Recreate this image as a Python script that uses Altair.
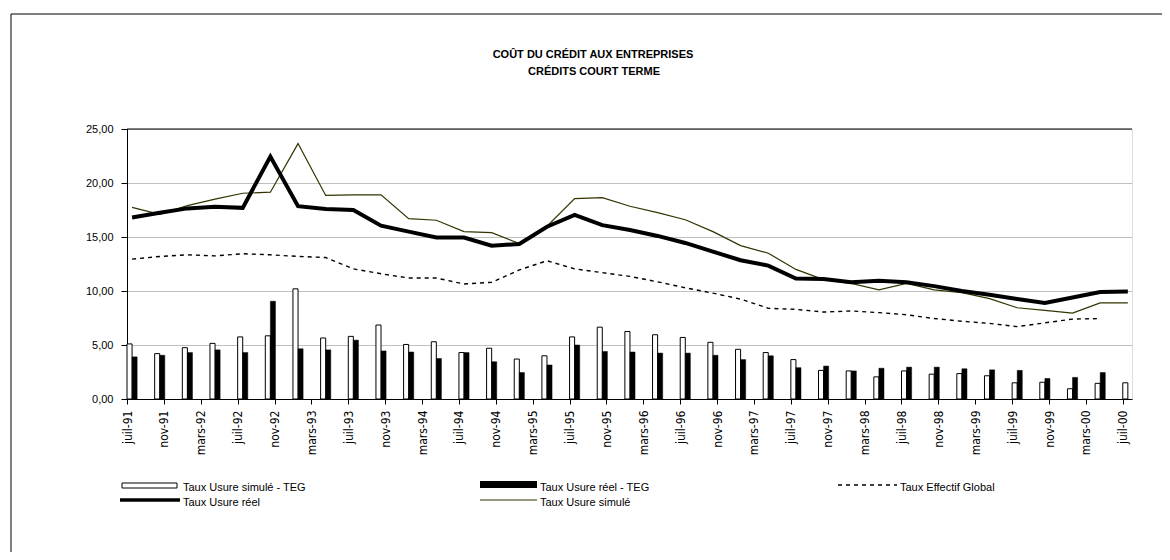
import altair as alt
import pandas as pd

# ---- data -------------------------------------------------------------
# quarterly observations, expressed in months since juil-91
months = [0, 3, 6, 9, 12, 15, 18, 21, 24, 27, 30, 33, 36, 39, 42, 45, 48, 51, 54,
          57, 60, 63, 66, 69, 72, 75, 78, 81, 84, 87, 90, 93, 96, 99, 102, 105, 108]

tick_months = [0, 4, 8, 12, 16, 20, 24, 28, 32, 36, 40, 44, 48, 52, 56, 60, 64, 68,
               72, 76, 80, 84, 88, 92, 96, 100, 104, 108]
tick_labels = ["juil-91", "nov-91", "mars-92", "juil-92", "nov-92", "mars-93",
               "juil-93", "nov-93", "mars-94", "juil-94", "nov-94", "mars-95",
               "juil-95", "nov-95", "mars-96", "juil-96", "nov-96", "mars-97",
               "juil-97", "nov-97", "mars-98", "juil-98", "nov-98", "mars-99",
               "juil-99", "nov-99", "mars-00", "juil-00"]

usure_simule_teg = [5.1, 4.2, 4.75, 5.15, 5.75, 5.85, 10.2, 5.65, 5.8, 6.85, 5.05, 5.3,
                    4.3, 4.7, 3.7, 4.0, 5.75, 6.65, 6.25, 5.95, 5.7, 5.25, 4.6, 4.3,
                    3.65, 2.65, 2.6, 2.05, 2.6, 2.3, 2.35, 2.15, 1.5, 1.55, 0.95, 1.45, 1.5]
usure_reel_teg = [3.9, 4.05, 4.3, 4.55, 4.3, 9.05, 4.65, 4.55, 5.45, 4.45, 4.35, 3.75,
                  4.3, 3.45, 2.45, 3.15, 5.0, 4.4, 4.35, 4.25, 4.25, 4.05, 3.65, 4.0,
                  2.9, 3.05, 2.6, 2.85, 2.95, 2.95, 2.8, 2.7, 2.65, 1.9, 2.0, 2.45, None]
teg = [12.95, 13.2, 13.35, 13.25, 13.45, 13.35, 13.2, 13.1, 12.05, 11.6, 11.2, 11.2,
       10.65, 10.8, 11.95, 12.8, 12.05, 11.7, 11.35, 10.85, 10.3, 9.8, 9.25, 8.4,
       8.3, 8.05, 8.15, 8.0, 7.8, 7.45, 7.2, 7.0, 6.7, 7.05, 7.4, 7.45, None]
usure_reel = [16.8, 17.25, 17.65, 17.8, 17.7, 22.45, 17.85, 17.6, 17.5, 16.05, 15.5, 14.95,
              14.95, 14.2, 14.35, 15.95, 17.05, 16.1, 15.65, 15.1, 14.45, 13.65, 12.85, 12.35,
              11.15, 11.1, 10.8, 10.95, 10.8, 10.45, 10.0, 9.65, 9.25, 8.9, 9.4, 9.9, 9.95]
usure_simule = [17.75, 17.1, 17.9, 18.5, 19.05, 19.15, 23.65, 18.85, 18.9, 18.9, 16.7, 16.55,
                15.5, 15.4, 14.4, 16.0, 18.55, 18.65, 17.85, 17.25, 16.6, 15.5, 14.2, 13.5,
                12.0, 11.05, 10.7, 10.1, 10.7, 10.1, 9.85, 9.3, 8.45, 8.2, 7.95, 8.9, 8.9]

title_lines = ["COÛT DU CRÉDIT AUX ENTREPRISES", "CRÉDITS COURT TERME"]
y_ticks = [0, 5, 10, 15, 20, 25]

df = pd.DataFrame({
    "t": months,
    "simule_teg": usure_simule_teg,
    "reel_teg": usure_reel_teg,
    "teg": teg,
    "reel": usure_reel,
    "simule": usure_simule,
})

# ---- styling -----------------------------------------------------------
W, H = 1005, 270
BAR = 0.55          # bar width in months
OLIVE = "#333300"
FONT = "Liberation Sans"
NARROW = "Liberation Sans Narrow, Arial Narrow, DejaVu Sans Condensed, sans-serif"

label_js = "[" + ",".join("'%s'" % s for s in tick_labels) + "][round(datum.value/4)]"

x_axis = alt.Axis(values=tick_months, labelExpr=label_js, labelAngle=270,
                  labelAlign="right", labelBaseline="middle", labelFont=NARROW,
                  labelFontSize=12, labelColor="black", tickSize=5, tickColor="black",
                  domainColor="black", labelPadding=6, grid=False, title=None,
                  labelOverlap=False, labelFlush=False)
y_axis = alt.Axis(values=y_ticks, labelExpr="replace(format(datum.value, '.2f'), '.', ',')",
                  labelFont=FONT, labelFontSize=11, labelColor="black", tickSize=6,
                  tickColor="black", domainColor="black", labelPadding=8, title=None,
                  gridColor="#c0c0c0", labelFlush=False)

x_scale = alt.Scale(domain=[0, 109], nice=False, zero=False)
y_scale = alt.Scale(domain=[0, 25], nice=False)

X = alt.X("xa:Q", scale=x_scale, axis=x_axis)
Y = alt.Y("val:Q", scale=y_scale, axis=y_axis)


def prep(field, start, end=None):
    ch = alt.Chart(df).transform_filter("isValid(datum.%s)" % field).transform_calculate(
        xa="datum.t + %f" % start, val="datum.%s" % field)
    if end is not None:
        ch = ch.transform_calculate(xb="datum.t + %f" % end)
    return ch


white_bars = prep("simule_teg", 0, BAR).mark_bar(
    fill="white", stroke="black", strokeWidth=1
).encode(x=X, x2="xb:Q", y=Y, y2=alt.datum(0))

black_bars = prep("reel_teg", BAR, 2 * BAR).mark_bar(
    fill="black", stroke="black", strokeWidth=0.5
).encode(x=X, x2="xb:Q", y=Y, y2=alt.datum(0))


def line_layer(field, **kw):
    return prep(field, BAR).mark_line(**kw).encode(x=X, y=Y)


teg_line = line_layer("teg", color="black", strokeWidth=1.4, strokeDash=[4, 4])
simule_line = line_layer("simule", color=OLIVE, strokeWidth=1.2)
reel_line = line_layer("reel", color="black", strokeWidth=4)

one = pd.DataFrame({"k": [0]})


def deco_text(txt, x, y, bold=False, align="left", size=11):
    return alt.Chart(one).mark_text(
        text=txt, font=FONT, fontSize=size, fontWeight="bold" if bold else "normal",
        align=align, baseline="alphabetic", color="black"
    ).encode(x=alt.value(x), y=alt.value(y))


def deco_rule(x, x2, y, y2, **kw):
    return alt.Chart(one).mark_rule(**kw).encode(
        x=alt.value(x), x2=alt.value(x2), y=alt.value(y), y2=alt.value(y2))


def deco_rect(x, x2, y, y2, **kw):
    return alt.Chart(one).mark_rect(**kw).encode(
        x=alt.value(x), x2=alt.value(x2), y=alt.value(y), y2=alt.value(y2))


decor = [
    # plot frame top edge (black over the grid)
    deco_rule(0, W, 0, 0, color="black", strokeWidth=1),
    # outer chart frame (top and left edges visible)
    deco_rule(-116, 1043, -115, -115, color="black", strokeWidth=1),
    deco_rule(-116, -116, -115, 431, color="black", strokeWidth=1),
    # title
    deco_text(title_lines[0], 466, -71, bold=True, align="center"),
    deco_text(title_lines[1], 467, -54, bold=True, align="center"),
    # legend
    deco_rect(-5, 50, 354, 359, fill="white", stroke="black", strokeWidth=1),
    deco_text("Taux Usure simulé - TEG", 56, 362),
    deco_rect(353, 410, 352, 359, fill="black"),
    deco_text("Taux Usure réel - TEG", 413, 362),
    deco_rule(711, 770, 356, 356, color="black", strokeWidth=1.5, strokeDash=[4, 4]),
    deco_text("Taux Effectif Global", 773, 362),
    deco_rule(-7, 53, 371, 371, color="black", strokeWidth=3.5),
    deco_text("Taux Usure réel", 56, 377),
    deco_rule(353, 410, 371, 371, color=OLIVE, strokeWidth=1.2),
    deco_text("Taux Usure simulé", 413, 377),
]

chart = alt.layer(
    white_bars, black_bars, teg_line, simule_line, reel_line, *decor
).properties(
    width=W, height=H,
    autosize=alt.AutoSizeParams(type="none"),
    padding={"left": 119, "top": 121, "right": 30, "bottom": 153},
).configure_view(
    stroke="black", strokeWidth=1
).configure(background="white")

chart.save("out.html", embed_options={"renderer": "svg", "actions": False})
